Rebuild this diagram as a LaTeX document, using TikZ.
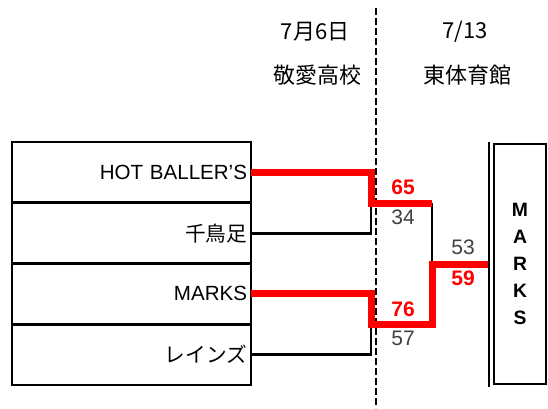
\documentclass[tikz,border=0pt]{standalone}
\usepackage{fontspec}
\setmainfont{Liberation Sans}
\newfontfamily\jp{Noto Sans CJK JP}
\definecolor{wred}{RGB}{255,0,0}
\definecolor{lgrey}{RGB}{64,64,64}
\begin{document}
\begin{tikzpicture}[x=0.75pt,y=-0.75pt,
  team/.style={draw, line width=1.9pt, anchor=north west, minimum width=179.25pt,
    minimum height=45.56pt, text width=173.25pt, align=right, inner xsep=3pt, inner ysep=0pt,
    outer sep=0pt, font=\fontsize{15.4}{18}\selectfont},
  jpteam/.style={team, font=\jp\fontsize{15.5}{18}\selectfont},
  hdr/.style={font=\jp\fontsize{16.5}{20}\selectfont, inner sep=0pt},
  winsc/.style={font=\bfseries\fontsize{15.75}{18}\selectfont, text=wred, inner sep=0pt},
  losesc/.style={font=\fontsize{15.75}{18}\selectfont, text=lgrey, inner sep=0pt},
  lose/.style={draw=black, line width=2.1pt},
  win/.style={draw=wred, line width=5.25pt},
  sep/.style={draw=black, line width=2pt, dash pattern=on 5.25pt off 2.25pt},
  champbox/.style={draw, line width=1.9pt, minimum width=39pt, minimum height=180pt,
    align=center, inner sep=0pt, outer sep=0pt, font=\bfseries\fontsize{14.5}{20.25}\selectfont}
]
\useasboundingbox (0,0) rectangle (548,408);

% headers
\node[hdr] (d1) at (315,32) {7月6日};
\node[hdr] (v1) at (317,75) {敬愛高校};
\node[hdr] (d2) at (465,32) {7/13};
\node[hdr] (v2) at (467,75) {東体育館};

% separator
\coordinate (sept) at (376,8);
\coordinate (sepb) at (376,408);
\draw[sep] (sept) -- (sepb);

% teams
\node[team] (t1) at (12,142) {HOT BALLER’S};
\node[jpteam] (t2) at (t1.south west) {千鳥足};
\node[team] (t3) at (t2.south west) {MARKS};
\node[jpteam] (t4) at (t3.south west) {レインズ};

% junctions
\coordinate (m1) at (371,203);
\coordinate (m2) at (371,324);
\coordinate (f1) at (432,203);
\coordinate (f2) at (432,324);
\coordinate (fm) at (432,264);
\coordinate (wt) at (489,142);
\coordinate (wb) at (489,387);
\coordinate (cw) at (489,264);

% losing lines
\draw[lose] (t2.east) -| (m1);
\draw[lose] (t4.east) -| (m2);
\draw[lose] (f1) -- (fm);

% winning lines
\draw[win] (t1.east) -| (m1) -- (f1);
\draw[win] (t3.east) -| (m2) -- (f2) -- (fm) -- (cw);

% champion
\draw[lose] (wt) -- (wb);
\node[champbox] (champ) at (520,264) {M\\A\\R\\K\\S};

% scores
\node[winsc] (s1) at (403,187) {65};
\node[losesc] (s2) at (403,217) {34};
\node[winsc] (s3) at (403,309) {76};
\node[losesc] (s4) at (403,338) {57};
\node[losesc] (s5) at (463,247) {53};
\node[winsc] (s6) at (463,278) {59};
\end{tikzpicture}
\end{document}
